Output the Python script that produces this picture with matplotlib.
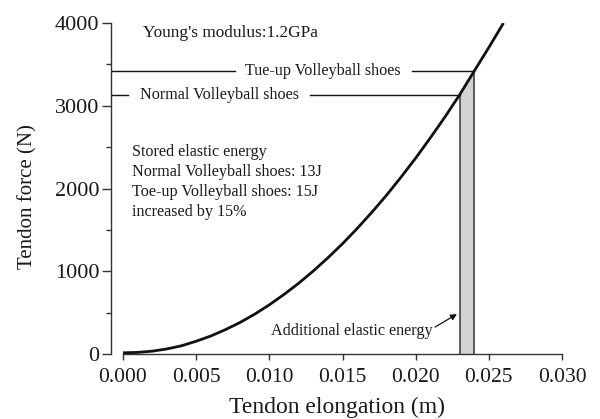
import matplotlib
matplotlib.use("Agg")
import matplotlib.pyplot as plt
import numpy as np

plt.rcParams['font.family'] = ['Liberation Serif', 'DejaVu Serif']

# Tendon elongation (m) and force (N)
elong = [0.000, 0.001, 0.002, 0.003, 0.004, 0.005, 0.006, 0.007, 0.008, 0.009,
         0.010, 0.011, 0.012, 0.013, 0.014, 0.015, 0.016, 0.017, 0.018, 0.019,
         0.020, 0.021, 0.022, 0.023, 0.024, 0.025, 0.026]
force = [15, 20, 35, 62, 100, 155, 218, 295, 382, 482,
         595, 720, 855, 1003, 1163, 1333, 1517, 1712, 1918, 2138,
         2368, 2612, 2865, 3132, 3420, 3705, 4000]

normal_x, normal_f = 0.023, 3132
toeup_x, toeup_f = 0.024, 3420

xticks = [0.000, 0.005, 0.010, 0.015, 0.020, 0.025, 0.030]
xticklabels = ["0.000", "0.005", "0.010", "0.015", "0.020", "0.025", "0.030"]
yticks = [0, 1000, 2000, 3000, 4000]
yminor = [500, 1500, 2500, 3500]

stored_lines = ["Stored elastic energy",
                "Normal Volleyball shoes: 13J",
                "Toe-up Volleyball shoes: 15J",
                "increased by 15%"]

fig = plt.figure(figsize=(6.0, 4.19), dpi=100)
ax = fig.add_axes([0.185, 0.155, 0.7517, 0.79])
xmin = -0.00082
ax.set_xlim(xmin, 0.030)
ax.set_ylim(0, 4000)

TXT = '#1a1a1a'

# shaded additional energy
xs = np.array(elong)
fs = np.array(force)
mask = (xs >= normal_x) & (xs <= toeup_x)
ax.fill_between(xs[mask], 0, fs[mask], color='#d3d3d5', lw=0, zorder=1)
ax.plot([normal_x, normal_x], [0, normal_f], color='#444444', lw=1.2, zorder=2)
ax.plot([toeup_x, toeup_x], [0, toeup_f], color='#444444', lw=1.2, zorder=2)

ax.plot(elong, force, color='#111111', lw=2.0, zorder=3, solid_capstyle='butt')

# horizontal reference lines with labels
fs_ann = 11.6
ax.plot([xmin, 0.00765], [toeup_f, toeup_f], color='#111111', lw=1.0)
ax.plot([0.01975, toeup_x], [toeup_f, toeup_f], color='#111111', lw=1.0)
ax.text(0.01363, toeup_f, "Tue-up Volleyball shoes", ha='center', va='center',
        fontsize=fs_ann, color=TXT)
ax.plot([xmin, 0.00034], [normal_f, normal_f], color='#111111', lw=1.0)
ax.plot([0.01278, normal_x], [normal_f, normal_f], color='#111111', lw=1.0)
ax.text(0.00659, normal_f, "Normal Volleyball shoes", ha='center', va='center',
        fontsize=fs_ann, color=TXT)

ax.text(0.00137, 3879, "Young's modulus:1.2GPa", ha='left', va='center',
        fontsize=12.4, color=TXT)

stored_y = [2440, 2200, 1960, 1720]
for line, yy in zip(stored_lines, stored_y):
    ax.text(0.00061, yy, line, ha='left', va='center', fontsize=fs_ann, color=TXT)

ax.text(0.02115, 280, "Additional elastic energy", ha='right', va='center',
        fontsize=fs_ann, color=TXT)
ax.annotate("", xy=(0.02282, 483), xytext=(0.02132, 326),
            arrowprops=dict(arrowstyle='-|>', color='#111111', lw=0.9,
                            mutation_scale=9, shrinkA=0, shrinkB=0))

# axes styling
for s in ['top', 'right']:
    ax.spines[s].set_visible(False)
ax.spines['left'].set_bounds(0, 4000)
ax.spines['bottom'].set_bounds(0, 0.030)
for s in ['left', 'bottom']:
    ax.spines[s].set_linewidth(1.0)
    ax.spines[s].set_color('#333333')

ax.set_xticks(xticks)
ax.set_xticklabels(xticklabels)
ax.set_yticks(yticks)
ax.set_yticks(yminor, minor=True)
ax.tick_params(axis='x', direction='out', length=4, width=1.0, labelsize=15.5, pad=6,
               color='#333333', labelcolor=TXT)
ax.tick_params(axis='y', which='major', direction='out', length=6.5, width=1.0,
               labelsize=16, pad=2, color='#333333', labelcolor=TXT)
ax.tick_params(axis='y', which='minor', direction='out', length=3.6, width=1.0, color='#333333')

ax.set_xlabel("Tendon elongation (m)", fontsize=17, labelpad=7, color=TXT)
ax.set_ylabel("Tendon force (N)", fontsize=15, color=TXT)
ax.yaxis.set_label_coords(-0.162, 0.477)

fig.savefig("out.png", dpi=100)
